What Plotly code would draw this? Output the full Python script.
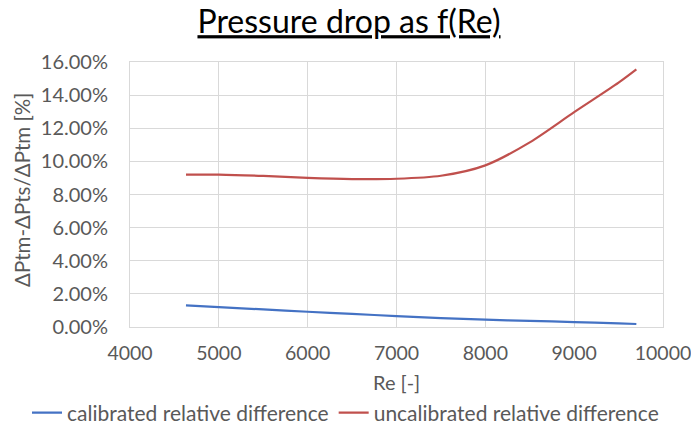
import plotly.graph_objects as go

re_cal = [4630, 5000, 5500, 6000, 6500, 7000, 7500, 8000, 8500, 9000, 9500, 9700]
cal = [0.0130, 0.0120, 0.0106, 0.0092, 0.0079, 0.0066, 0.0054, 0.0044, 0.0037, 0.0030, 0.0022, 0.0018]

re_unc = [4630, 5000, 5500, 6000, 6500, 7000, 7500, 8000, 8500, 9000, 9500, 9700]
unc = [0.0920, 0.0920, 0.0912, 0.0900, 0.0893, 0.0895, 0.0913, 0.0976, 0.1115, 0.1297, 0.1475, 0.1555]

x_ticks = [4000, 5000, 6000, 7000, 8000, 9000, 10000]
y_ticks = [0.0, 0.02, 0.04, 0.06, 0.08, 0.10, 0.12, 0.14, 0.16]

FONT = "Lato"
GRAY = "#595959"
GRID = "#D9D9D9"

fig = go.Figure()
fig.add_trace(go.Scatter(x=re_cal, y=cal, mode="lines", name="calibrated relative difference",
                         line=dict(color="#4472C4", width=2.2, shape="spline", smoothing=0.8)))
fig.add_trace(go.Scatter(x=re_unc, y=unc, mode="lines", name="uncalibrated relative difference",
                         line=dict(color="#C0504D", width=2.2, shape="spline", smoothing=0.8)))

fig.update_layout(
    width=691, height=427,
    margin=dict(l=130, r=28, t=62, b=100, autoexpand=False),
    paper_bgcolor="white", plot_bgcolor="white",
    font=dict(family=FONT, size=20, color=GRAY),
    title=dict(text="<u>Pressure drop as f(Re)</u>", x=349 / 691, xanchor="center", y=1 - 22 / 427, yanchor="middle",
               font=dict(family=FONT, size=32, color="black")),
    showlegend=True,
    legend=dict(orientation="h", xref="paper", yref="paper", x=(27 - 130) / 533, xanchor="left",
                y=(327 - 413) / 265, yanchor="middle",
                font=dict(family=FONT, size=21, color=GRAY), itemwidth=30,
                bgcolor="rgba(0,0,0,0)", tracegroupgap=0),
    xaxis=dict(range=[4000, 10000], tickvals=x_ticks, ticktext=[str(v) for v in x_ticks],
               showgrid=True, gridcolor=GRID, gridwidth=1, zeroline=False,
               showline=True, linecolor=GRID, linewidth=1, mirror=True,
               ticks="", ticklabelstandoff=9, ticklabeloverflow="allow",
               tickfont=dict(color=GRAY, size=19.5)),
    yaxis=dict(range=[0, 0.16], tickvals=y_ticks, tickformat=".2%",
               showgrid=True, gridcolor=GRID, gridwidth=1, zeroline=False,
               showline=True, linecolor=GRID, linewidth=1, mirror=True,
               ticks="", ticklabelstandoff=17, tickfont=dict(color=GRAY, size=20)),
    annotations=[
        dict(text="Re [-]", xref="paper", yref="paper", x=0.5, y=(327 - 382) / 265,
             xanchor="center", yanchor="middle", showarrow=False,
             font=dict(family=FONT, size=20, color=GRAY)),
        dict(text="ΔPtm-ΔPts/ΔPtm [%]", xref="paper", yref="paper", x=(22 - 130) / 533,
             y=(327 - 190) / 265, xanchor="center", yanchor="middle", textangle=-90,
             showarrow=False, font=dict(family=FONT, size=20.5, color=GRAY)),
    ],
)

fig.write_html("out.html", config={"displayModeBar": False},
               post_script="document.body.style.margin='0';")
